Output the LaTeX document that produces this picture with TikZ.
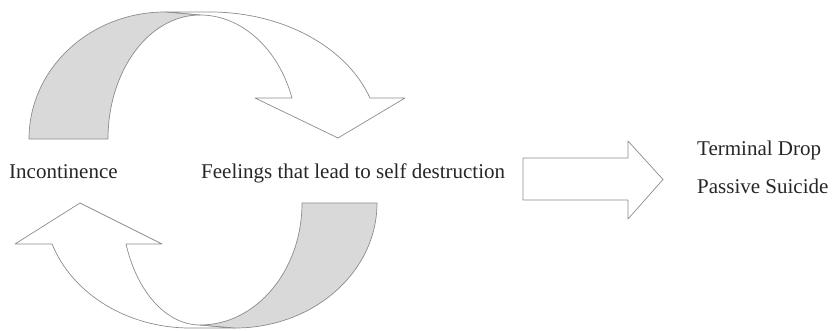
\documentclass[tikz,border=0pt]{standalone}
\usepackage{fontspec}
\setmainfont{Liberation Serif}
\usetikzlibrary{calc}
\tikzset{every node/.style={font=\fontsize{21}{25}\selectfont, inner sep=0pt}}

\begin{document}
\begin{tikzpicture}[x=1pt, y=1pt]
  % Fixed bounding box (reference size)
  \path[use as bounding box] (0,0) rectangle (834,330);

  % Colors of the scanned drawing.
  \colorlet{edgecol}{black!45}
  \colorlet{foldcol}{black!15}
  \colorlet{textcol}{black!85}
  \tikzset{band/.style={draw=edgecol, line width=0.7pt, line join=round}}

  % Upper curved arrow: front band with its head.
  \coordinate (uptop) at (165,318);
  \draw[band, fill=white] (uptop) -- (210,318)
    arc[start angle=90, end angle=18.83, x radius=169pt, y radius=127pt]
    -- (405,232) -- (338,192) -- (255,232) -- (292,232)
    arc[start angle=19.31, end angle=90, x radius=97.5pt, y radius=124pt] -- cycle;

  % Upper curved arrow: shaded back fold.
  \draw[band, fill=foldcol] (29,191)
    arc[start angle=180, end angle=90, x radius=136pt, y radius=127pt]
    -- (200,315)
    arc[start angle=90, end angle=180, x radius=92pt, y radius=124pt] -- cycle;

  % Lower curved arrow: front band with its head.
  \coordinate (lowbot) at (235,2);
  \draw[band, fill=white] (lowbot) -- (190,2)
    arc[start angle=270, end angle=199.15, x radius=146pt, y radius=125pt]
    -- (15,86) -- (80,127) -- (162,86) -- (126,86)
    arc[start angle=199.64, end angle=270, x radius=78.6pt, y radius=122pt] -- cycle;

  % Lower curved arrow: shaded back fold.
  \draw[band, fill=foldcol] (377,127)
    arc[start angle=0, end angle=-90, x radius=142pt, y radius=125pt]
    -- (200,5)
    arc[start angle=-90, end angle=0, x radius=102pt, y radius=122pt] -- cycle;

  % Labels.
  \node[anchor=base west, text=textcol] (incont) at (9,152) {Incontinence};
  \node[anchor=base west, text=textcol] (feel) at (201,152) {Feelings that lead to self destruction};
  \node[anchor=base west, text=textcol] (drop) at (697,175) {Terminal Drop};
  \node[anchor=base west, text=textcol] (suicide) at (697,137) {Passive Suicide};

  % Block arrow towards the outcomes.
  \coordinate (tail) at (523,150.5);
  \coordinate (tip) at (663,150.5);
  \draw[band, fill=white] ($(tail)+(0,-20.5)$) -- ($(tip)+(-35,-20.5)$)
    -- ($(tip)+(-35,-39.5)$) -- (tip) -- ($(tip)+(-35,38.5)$)
    -- ($(tip)+(-35,21.5)$) -- ($(tail)+(0,21.5)$) -- cycle;
\end{tikzpicture}
\end{document}
